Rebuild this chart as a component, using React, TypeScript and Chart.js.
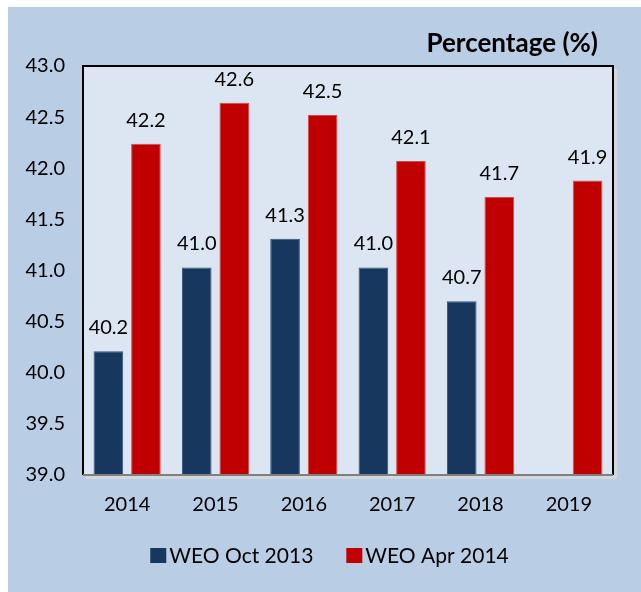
import { useEffect, useRef } from "react";
import { Chart, registerables } from "chart.js";

Chart.register(...registerables);

const categories = ["2014", "2015", "2016", "2017", "2018", "2019"];
const weoOct2013: (number | null)[] = [40.21, 41.03, 41.31, 41.03, 40.7, null];
const weoApr2014: (number | null)[] = [42.24, 42.64, 42.52, 42.07, 41.72, 41.88];
const seriesNames = ["WEO Oct 2013", "WEO Apr 2014"];
const seriesColors = ["#17375e", "#c00000"];
const titleText = "Percentage (%)";

const FONT = "Lato, 'Open Sans', sans-serif";

const decorPlugin = {
  id: "decor",
  beforeDraw(chart: any) {
    const { ctx, chartArea: a, width, height } = chart;
    ctx.save();
    ctx.fillStyle = "#b9cde5";
    ctx.fillRect(0, 0, width, height);
    // shadow
    ctx.fillStyle = "#d3d8de";
    ctx.fillRect(a.right, a.top + 3, 4, a.bottom - a.top + 1);
    ctx.fillRect(a.left + 3, a.bottom, a.right - a.left + 1, 4);
    ctx.fillStyle = "#dce6f2";
    ctx.fillRect(a.left, a.top, a.right - a.left, a.bottom - a.top);
    ctx.restore();
  },
  afterDatasetsDraw(chart: any) {
    const { ctx, chartArea: a } = chart;
    ctx.save();
    ctx.strokeStyle = "#000";
    ctx.lineWidth = 2;
    ctx.beginPath();
    ctx.moveTo(a.left, a.bottom);
    ctx.lineTo(a.left, a.top);
    ctx.lineTo(a.right, a.top);
    ctx.lineTo(a.right, a.bottom);
    ctx.stroke();
    ctx.strokeStyle = "#7f7f7f";
    ctx.beginPath();
    ctx.moveTo(a.left, a.bottom);
    ctx.lineTo(a.right, a.bottom);
    ctx.stroke();

    // data labels
    ctx.fillStyle = "#000";
    ctx.font = `20px ${FONT}`;
    ctx.textAlign = "center";
    ctx.textBaseline = "alphabetic";
    chart.data.datasets.forEach((ds: any, i: number) => {
      const meta = chart.getDatasetMeta(i);
      meta.data.forEach((bar: any, j: number) => {
        const v = ds.data[j];
        if (v === null || v === undefined) return;
        ctx.fillText(Number(v).toFixed(1), bar.x, bar.y - 17);
      });
    });
    ctx.restore();
  },
  afterDraw(chart: any) {
    const { ctx, chartArea: a, width } = chart;
    ctx.save();
    // title
    ctx.fillStyle = "#000";
    ctx.font = `bold 26px ${FONT}`;
    ctx.textAlign = "right";
    ctx.textBaseline = "alphabetic";
    ctx.fillText(titleText, a.right - 15, 45);

    // legend
    ctx.font = `21px ${FONT}`;
    ctx.textAlign = "left";
    const box = 16;
    const gap = 3;
    const spacing = 33;
    const w0 = ctx.measureText(seriesNames[0]).width;
    const w1 = ctx.measureText(seriesNames[1]).width;
    const total = box + gap + w0 + spacing + box + gap + w1;
    let x = width / 2 + 5 - total / 2;
    const baseY = 556;
    seriesNames.forEach((name, i) => {
      ctx.fillStyle = seriesColors[i];
      ctx.fillRect(x, baseY - 15, box, 15);
      x += box + gap;
      ctx.fillStyle = "#000";
      ctx.fillText(name, x, baseY);
      x += (i === 0 ? w0 : w1) + spacing;
    });
    ctx.restore();
  },
};

export default function App() {
  const ref = useRef<HTMLCanvasElement | null>(null);
  useEffect(() => {
    if (!ref.current) return;
    const chart = new Chart(ref.current, {
      type: "bar",
      data: {
        labels: categories,
        datasets: [
          {
            label: seriesNames[0],
            data: weoOct2013,
            backgroundColor: seriesColors[0],
            borderColor: "#34547a",
            borderWidth: 1,
            categoryPercentage: 0.85,
            barPercentage: 0.79,
          },
          {
            label: seriesNames[1],
            data: weoApr2014,
            backgroundColor: seriesColors[1],
            borderColor: "#d84a4a",
            borderWidth: 1,
            categoryPercentage: 0.85,
            barPercentage: 0.79,
          },
        ],
      },
      options: {
        responsive: false,
        animation: false,
        layout: { padding: { top: 59, right: 28, left: 0, bottom: 0 } },
        plugins: {
          legend: { display: false },
          title: { display: false },
          tooltip: { enabled: false },
        },
        scales: {
          x: {
            grid: { display: false, drawTicks: false },
            border: { display: false },
            ticks: { color: "#000", font: { family: FONT, size: 20 }, padding: 18 },
            afterFit(scale: any) {
              scale.height = 117;
            },
          },
          y: {
            min: 39,
            max: 43,
            grid: { display: false, drawTicks: false },
            border: { display: false },
            ticks: {
              stepSize: 0.5,
              color: "#000",
              font: { family: FONT, size: 20 },
              padding: 18,
              callback: (v: any) => Number(v).toFixed(1),
            },
            afterFit(scale: any) {
              scale.width = 75;
            },
          },
        },
      },
      plugins: [decorPlugin],
    });
    return () => chart.destroy();
  }, []);
  return (
    <div style={{ position: "absolute", left: 8, top: 7, width: 633, height: 585 }}>
      <canvas ref={ref} width={633} height={585} style={{ display: "block" }} />
    </div>
  );
}
